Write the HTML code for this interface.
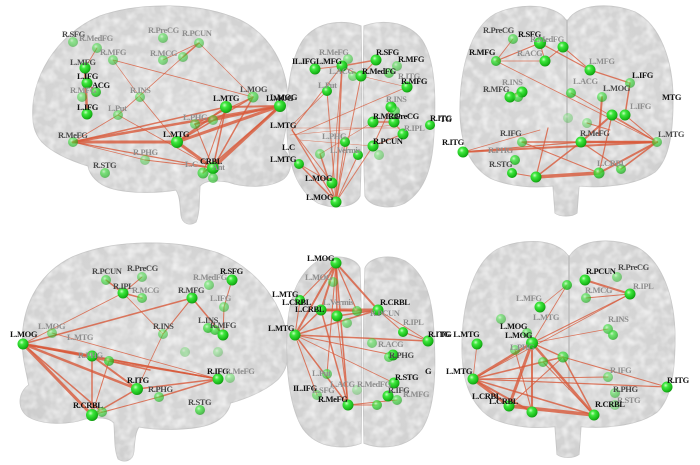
<!DOCTYPE html>
<html><head><meta charset="utf-8">
<style>
html,body{margin:0;padding:0;background:#fff;}
svg{display:block;}
text{font-family:"Liberation Serif",serif;font-weight:bold;font-size:8.5px;letter-spacing:-0.4px;}
.k{fill:#111;} .d{fill:#4a4a4a;} .g{fill:#8e8e8e;}
.e line{stroke:#d8593a;stroke-linecap:round;}
</style></head>
<body>
<svg width="700" height="465" viewBox="0 0 700 465" xmlns="http://www.w3.org/2000/svg">
<defs>
<radialGradient id="ng" cx="0.38" cy="0.35" r="0.7">
<stop offset="0" stop-color="#c8ffc0"/><stop offset="0.3" stop-color="#3ee83e"/><stop offset="0.8" stop-color="#18b818"/><stop offset="1" stop-color="#0e8a0e"/>
</radialGradient>
<radialGradient id="bg" cx="0.5" cy="0.45" r="0.6">
<stop offset="0" stop-color="#d8d8d8"/><stop offset="0.8" stop-color="#d3d3d3"/><stop offset="1" stop-color="#cbcbcb"/>
</radialGradient>
<filter id="nz" x="0" y="0" width="100%" height="100%">
<feTurbulence type="fractalNoise" baseFrequency="0.11" numOctaves="2" seed="4"/>
<feColorMatrix type="matrix" values="0 0 0 0 1  0 0 0 0 1  0 0 0 0 1  1.3 0 0 0 -0.48"/>
</filter>
<path id="sag" d="M33,118 C30,80 55,35 100,16 C140,2 200,2 240,20 C270,35 287,65 288,100 C289,120 284,135 282,148 C292,155 294,172 282,180 C268,188 245,188 228,182 C215,180 205,180 200,186 C199,200 200,212 196,222 C190,226 182,224 181,215 C180,205 180,196 176,190 C160,193 130,194 110,188 C98,184 90,176 88,166 C75,162 55,155 42,142 C36,135 33,127 33,118 Z"/>
<path id="axl" d="M361,26 C345,20 318,20 303,40 C290,60 286,95 287,130 C288,165 297,190 318,203 C335,210 355,207 360,196 C362,150 362,70 361,26 Z M364,26 C380,20 407,20 422,40 C435,60 436,95 434,130 C433,165 426,190 405,203 C390,210 370,207 365,196 C363,150 363,70 364,26 Z"/>
<path id="cor" d="M566,20 C555,4 520,2 495,14 C470,28 460,70 460,110 C460,140 468,165 490,178 C510,187 535,188 553,186 L555,213 C560,217 572,217 577,213 L579,186 C600,188 635,186 655,172 C670,158 673,130 673,100 C673,60 660,25 635,12 C610,2 578,4 568,20 Z"/>
<clipPath id="c1"><use href="#sag"/></clipPath>
<clipPath id="c2"><use href="#axl"/></clipPath>
<clipPath id="c3"><use href="#cor"/></clipPath>
<clipPath id="c4"><use href="#sag" transform="translate(322,237) scale(-1.04,1)"/></clipPath>
<clipPath id="c5"><use href="#axl" transform="translate(0,470) scale(1,-1.03)"/></clipPath>
<clipPath id="c6"><use href="#cor" transform="translate(2,235) scale(1,1.03)"/></clipPath>
</defs>

<!-- brains -->
<use href="#sag" fill="url(#bg)" stroke="#c6c6c6"/>
<g clip-path="url(#c1)"><rect x="0" y="0" width="300" height="230" filter="url(#nz)"/></g>
<use href="#axl" fill="url(#bg)" stroke="#c6c6c6"/>
<g clip-path="url(#c2)"><rect x="280" y="0" width="160" height="230" filter="url(#nz)"/></g>
<use href="#cor" fill="url(#bg)" stroke="#c6c6c6"/>
<g clip-path="url(#c3)"><rect x="450" y="0" width="250" height="230" filter="url(#nz)"/></g>
<line x1="567" y1="20" x2="567" y2="160" stroke="#bdbdbd" stroke-width="1.5"/>

<g transform="translate(322,237) scale(-1.04,1)"><use href="#sag" fill="url(#bg)" stroke="#c6c6c6"/></g>
<g clip-path="url(#c4)"><rect x="0" y="232" width="300" height="233" filter="url(#nz)"/></g>
<g transform="translate(0,470) scale(1,-1.03)"><use href="#axl" fill="url(#bg)" stroke="#c6c6c6"/></g>
<g clip-path="url(#c5)"><rect x="280" y="240" width="160" height="225" filter="url(#nz)"/></g>
<g transform="translate(2,235) scale(1,1.03)"><use href="#cor" fill="url(#bg)" stroke="#c6c6c6"/></g>
<g clip-path="url(#c6)"><rect x="450" y="232" width="250" height="233" filter="url(#nz)"/></g>
<line x1="569" y1="256" x2="569" y2="390" stroke="#bdbdbd" stroke-width="1.5"/>

<!-- edges panel 1 -->
<g class="e" stroke-opacity="0.8">
<line x1="73" y1="142" x2="177" y2="142" stroke-width="3"/>
<line x1="73" y1="142" x2="280" y2="106" stroke-width="2.5"/>
<line x1="73" y1="142" x2="226" y2="107" stroke-width="1.5"/>
<line x1="73" y1="142" x2="213" y2="168" stroke-width="1.2"/>
<line x1="73" y1="142" x2="118" y2="115" stroke-width="0.8"/>
<line x1="177" y1="142" x2="280" y2="106" stroke-width="3"/>
<line x1="177" y1="142" x2="226" y2="107" stroke-width="2"/>
<line x1="177" y1="142" x2="213" y2="168" stroke-width="3"/>
<line x1="177" y1="142" x2="253" y2="97" stroke-width="1.5"/>
<line x1="226" y1="107" x2="280" y2="106" stroke-width="2"/>
<line x1="226" y1="107" x2="213" y2="168" stroke-width="1.5"/>
<line x1="280" y1="106" x2="213" y2="168" stroke-width="3"/>
<line x1="253" y1="97" x2="213" y2="168" stroke-width="1.5"/>
<line x1="280" y1="106" x2="195" y2="124" stroke-width="2"/>
<line x1="195" y1="124" x2="253" y2="97" stroke-width="1"/>
<line x1="195" y1="124" x2="213" y2="168" stroke-width="1"/>
<line x1="280" y1="106" x2="203" y2="173" stroke-width="1.5"/>
<line x1="85" y1="68" x2="87" y2="114" stroke-width="2.5"/>
<line x1="87" y1="83" x2="96" y2="92" stroke-width="1.5"/>
<line x1="113" y1="60" x2="253" y2="97" stroke-width="0.8"/>
<line x1="118" y1="115" x2="183" y2="57" stroke-width="0.8"/>
<line x1="118" y1="115" x2="213" y2="168" stroke-width="0.8"/>
<line x1="140" y1="97" x2="177" y2="142" stroke-width="0.8"/>
<line x1="163" y1="60" x2="199" y2="43" stroke-width="0.8"/>
<line x1="183" y1="57" x2="199" y2="43" stroke-width="1.5"/>
<line x1="199" y1="43" x2="253" y2="97" stroke-width="0.6"/>
<line x1="113" y1="60" x2="140" y2="97" stroke-width="0.6"/>
<line x1="97" y1="48" x2="85" y2="68" stroke-width="0.8"/>
<line x1="145" y1="160" x2="213" y2="168" stroke-width="1"/>
<line x1="73" y1="142" x2="145" y2="160" stroke-width="0.8"/>
<line x1="226" y1="107" x2="203" y2="173" stroke-width="1"/>
</g>
<!-- edges panel 2 -->
<g class="e" stroke-opacity="0.75">
<line x1="336" y1="202" x2="342" y2="66" stroke-width="1.5"/>
<line x1="336" y1="202" x2="327" y2="91" stroke-width="1"/>
<line x1="336" y1="202" x2="361" y2="76" stroke-width="1"/>
<line x1="336" y1="202" x2="299" y2="164" stroke-width="1.5"/>
<line x1="336" y1="202" x2="320" y2="154" stroke-width="1.5"/>
<line x1="336" y1="202" x2="292" y2="130" stroke-width="1.2"/>
<line x1="336" y1="202" x2="345" y2="142" stroke-width="1"/>
<line x1="336" y1="202" x2="373" y2="146" stroke-width="1"/>
<line x1="336" y1="202" x2="358" y2="155" stroke-width="1"/>
<line x1="332" y1="183" x2="299" y2="164" stroke-width="1"/>
<line x1="332" y1="183" x2="292" y2="130" stroke-width="1"/>
<line x1="332" y1="183" x2="342" y2="66" stroke-width="0.8"/>
<line x1="342" y1="66" x2="376" y2="60" stroke-width="1.5"/>
<line x1="342" y1="66" x2="361" y2="76" stroke-width="1"/>
<line x1="315" y1="69" x2="342" y2="66" stroke-width="1"/>
<line x1="376" y1="60" x2="361" y2="76" stroke-width="1"/>
<line x1="342" y1="66" x2="292" y2="130" stroke-width="1"/>
<line x1="327" y1="91" x2="292" y2="125" stroke-width="0.8"/>
<line x1="407" y1="87" x2="295" y2="135" stroke-width="0.8"/>
<line x1="391" y1="107" x2="373" y2="146" stroke-width="1"/>
<line x1="373" y1="122" x2="394" y2="122" stroke-width="1.5"/>
<line x1="394" y1="122" x2="403" y2="134" stroke-width="1"/>
<line x1="373" y1="146" x2="403" y2="134" stroke-width="1"/>
<line x1="290" y1="128" x2="400" y2="128" stroke-width="0.6"/>
<line x1="290" y1="135" x2="395" y2="125" stroke-width="0.5"/>
<line x1="300" y1="140" x2="373" y2="146" stroke-width="0.6"/>
<line x1="361" y1="76" x2="407" y2="87" stroke-width="0.6"/>
<line x1="373" y1="122" x2="320" y2="154" stroke-width="0.6"/>
</g>
<!-- edges panel 3 -->
<g class="e" stroke-opacity="0.8">
<line x1="463" y1="152" x2="657" y2="142" stroke-width="2"/>
<line x1="463" y1="152" x2="581" y2="142" stroke-width="1.2"/>
<line x1="522" y1="142" x2="657" y2="142" stroke-width="1.5"/>
<line x1="536" y1="177" x2="599" y2="173" stroke-width="3.5"/>
<line x1="536" y1="177" x2="581" y2="142" stroke-width="1.5"/>
<line x1="536" y1="177" x2="548" y2="128" stroke-width="1.2"/>
<line x1="581" y1="142" x2="657" y2="142" stroke-width="2.5"/>
<line x1="612" y1="115" x2="581" y2="142" stroke-width="2"/>
<line x1="602" y1="97" x2="599" y2="135" stroke-width="2"/>
<line x1="587" y1="123" x2="610" y2="130" stroke-width="1"/>
<line x1="599" y1="173" x2="657" y2="142" stroke-width="2"/>
<line x1="621" y1="169" x2="657" y2="142" stroke-width="1.5"/>
<line x1="581" y1="142" x2="621" y2="169" stroke-width="1.2"/>
<line x1="599" y1="173" x2="612" y2="115" stroke-width="1.2"/>
<line x1="630" y1="83" x2="625" y2="115" stroke-width="1.5"/>
<line x1="590" y1="70" x2="630" y2="83" stroke-width="1.2"/>
<line x1="540" y1="43" x2="590" y2="70" stroke-width="1.2"/>
<line x1="563" y1="47" x2="590" y2="70" stroke-width="1"/>
<line x1="496" y1="61" x2="540" y2="43" stroke-width="1.2"/>
<line x1="496" y1="61" x2="545" y2="61" stroke-width="0.8"/>
<line x1="496" y1="61" x2="657" y2="142" stroke-width="0.8"/>
<line x1="510" y1="97" x2="522" y2="92" stroke-width="3"/>
<line x1="540" y1="43" x2="545" y2="61" stroke-width="1"/>
<line x1="545" y1="61" x2="563" y2="47" stroke-width="1"/>
<line x1="496" y1="61" x2="513" y2="39" stroke-width="0.8"/>
<line x1="571" y1="93" x2="657" y2="142" stroke-width="0.8"/>
<line x1="612" y1="115" x2="657" y2="142" stroke-width="1"/>
<line x1="625" y1="115" x2="657" y2="142" stroke-width="1"/>
<line x1="522" y1="142" x2="599" y2="173" stroke-width="1"/>
<line x1="512" y1="173" x2="536" y2="177" stroke-width="1"/>
<line x1="463" y1="152" x2="540" y2="130" stroke-width="0.8"/>
</g>
<!-- edges panel 4 -->
<g class="e" stroke-opacity="0.8">
<line x1="23" y1="344" x2="192" y2="298" stroke-width="1.5"/>
<line x1="23" y1="344" x2="123" y2="293" stroke-width="0.8"/>
<line x1="23" y1="344" x2="92" y2="356" stroke-width="2.5"/>
<line x1="23" y1="344" x2="92" y2="415" stroke-width="3"/>
<line x1="23" y1="344" x2="137" y2="389" stroke-width="2.5"/>
<line x1="23" y1="344" x2="218" y2="379" stroke-width="1.5"/>
<line x1="23" y1="344" x2="109" y2="361" stroke-width="1.5"/>
<line x1="23" y1="344" x2="102" y2="412" stroke-width="1.5"/>
<line x1="92" y1="356" x2="92" y2="415" stroke-width="1.5"/>
<line x1="92" y1="356" x2="218" y2="379" stroke-width="1.5"/>
<line x1="92" y1="356" x2="137" y2="389" stroke-width="2"/>
<line x1="92" y1="415" x2="137" y2="389" stroke-width="1.5"/>
<line x1="92" y1="415" x2="109" y2="361" stroke-width="1"/>
<line x1="137" y1="389" x2="218" y2="379" stroke-width="1.5"/>
<line x1="159" y1="397" x2="218" y2="379" stroke-width="1.5"/>
<line x1="159" y1="397" x2="92" y2="415" stroke-width="1"/>
<line x1="192" y1="298" x2="163" y2="334" stroke-width="1"/>
<line x1="192" y1="298" x2="223" y2="335" stroke-width="1.5"/>
<line x1="232" y1="280" x2="224" y2="307" stroke-width="1"/>
<line x1="224" y1="307" x2="223" y2="335" stroke-width="1"/>
<line x1="106" y1="280" x2="123" y2="293" stroke-width="1.5"/>
<line x1="123" y1="293" x2="142" y2="298" stroke-width="1.5"/>
<line x1="142" y1="277" x2="123" y2="293" stroke-width="1"/>
<line x1="123" y1="293" x2="163" y2="334" stroke-width="0.8"/>
<line x1="163" y1="334" x2="137" y2="389" stroke-width="0.8"/>
<line x1="109" y1="361" x2="218" y2="379" stroke-width="1"/>
<line x1="52" y1="333" x2="218" y2="379" stroke-width="0.8"/>
<line x1="109" y1="361" x2="150" y2="370" stroke-width="1.5"/>
</g>
<!-- edges panel 5 -->
<g class="e" stroke-opacity="0.8">
<line x1="336" y1="263" x2="295" y2="335" stroke-width="2"/>
<line x1="336" y1="263" x2="321" y2="310" stroke-width="2"/>
<line x1="336" y1="263" x2="378" y2="310" stroke-width="2"/>
<line x1="336" y1="263" x2="337" y2="316" stroke-width="1.5"/>
<line x1="336" y1="263" x2="348" y2="405" stroke-width="1.5"/>
<line x1="336" y1="263" x2="327" y2="374" stroke-width="1"/>
<line x1="336" y1="263" x2="357" y2="311" stroke-width="1.2"/>
<line x1="295" y1="335" x2="428" y2="341" stroke-width="1.5"/>
<line x1="295" y1="335" x2="378" y2="310" stroke-width="1.5"/>
<line x1="295" y1="335" x2="348" y2="405" stroke-width="1.5"/>
<line x1="295" y1="335" x2="393" y2="355" stroke-width="1"/>
<line x1="295" y1="335" x2="317" y2="395" stroke-width="1"/>
<line x1="295" y1="335" x2="321" y2="310" stroke-width="1.5"/>
<line x1="295" y1="335" x2="394" y2="383" stroke-width="0.8"/>
<line x1="321" y1="310" x2="378" y2="310" stroke-width="3"/>
<line x1="321" y1="310" x2="348" y2="405" stroke-width="1.5"/>
<line x1="337" y1="316" x2="348" y2="405" stroke-width="1"/>
<line x1="348" y1="405" x2="377" y2="405" stroke-width="1"/>
<line x1="348" y1="405" x2="397" y2="400" stroke-width="1"/>
<line x1="378" y1="310" x2="403" y2="332" stroke-width="1"/>
<line x1="403" y1="332" x2="428" y2="341" stroke-width="1"/>
<line x1="378" y1="310" x2="428" y2="341" stroke-width="0.8"/>
<line x1="300" y1="300" x2="336" y2="263" stroke-width="1"/>
<line x1="300" y1="300" x2="295" y2="335" stroke-width="1"/>
<line x1="321" y1="310" x2="357" y2="311" stroke-width="1.5"/>
<line x1="337" y1="316" x2="378" y2="310" stroke-width="1.5"/>
</g>
<!-- edges panel 6 -->
<g class="e" stroke-opacity="0.8">
<line x1="473" y1="379" x2="532" y2="343" stroke-width="2.5"/>
<line x1="473" y1="379" x2="509" y2="406" stroke-width="3"/>
<line x1="473" y1="379" x2="532" y2="412" stroke-width="2"/>
<line x1="473" y1="379" x2="594" y2="415" stroke-width="1.5"/>
<line x1="473" y1="379" x2="563" y2="357" stroke-width="1.5"/>
<line x1="473" y1="379" x2="667" y2="387" stroke-width="1.2"/>
<line x1="473" y1="379" x2="630" y2="294" stroke-width="0.8"/>
<line x1="473" y1="379" x2="608" y2="377" stroke-width="1"/>
<line x1="532" y1="343" x2="509" y2="406" stroke-width="3"/>
<line x1="532" y1="343" x2="532" y2="412" stroke-width="2"/>
<line x1="532" y1="343" x2="594" y2="415" stroke-width="2.5"/>
<line x1="532" y1="343" x2="563" y2="357" stroke-width="1.5"/>
<line x1="532" y1="343" x2="630" y2="294" stroke-width="1"/>
<line x1="532" y1="343" x2="567" y2="285" stroke-width="0.8"/>
<line x1="509" y1="406" x2="594" y2="415" stroke-width="3.5"/>
<line x1="563" y1="357" x2="667" y2="387" stroke-width="1"/>
<line x1="563" y1="357" x2="594" y2="415" stroke-width="1.5"/>
<line x1="563" y1="357" x2="509" y2="406" stroke-width="1"/>
<line x1="477" y1="344" x2="473" y2="379" stroke-width="0.8"/>
<line x1="585" y1="280" x2="630" y2="294" stroke-width="2"/>
<line x1="586" y1="298" x2="630" y2="294" stroke-width="1"/>
<line x1="540" y1="307" x2="567" y2="285" stroke-width="0.8"/>
<line x1="543" y1="362" x2="594" y2="415" stroke-width="1"/>
<line x1="515" y1="350" x2="532" y2="412" stroke-width="1"/>
<line x1="532" y1="343" x2="608" y2="329" stroke-width="0.8"/>
</g>

<!-- nodes -->
<g fill="url(#ng)">
<circle cx="73" cy="42" r="5" opacity=".5"/><circle cx="97" cy="48" r="5" opacity=".5"/><circle cx="113" cy="60" r="5" opacity=".5"/>
<circle cx="85" cy="68" r="5.5"/><circle cx="87" cy="83" r="5.5"/><circle cx="96" cy="92" r="5" opacity=".8"/>
<circle cx="82" cy="97" r="5" opacity=".5"/><circle cx="87" cy="114" r="5.5"/><circle cx="118" cy="115" r="5" opacity=".5"/>
<circle cx="140" cy="97" r="5" opacity=".5"/><circle cx="163" cy="38" r="5" opacity=".5"/><circle cx="199" cy="43" r="5" opacity=".5"/>
<circle cx="163" cy="60" r="5" opacity=".5"/><circle cx="183" cy="57" r="5" opacity=".5"/><circle cx="253" cy="97" r="5.5" opacity=".6"/>
<circle cx="226" cy="107" r="6"/><circle cx="280" cy="106" r="6"/><circle cx="195" cy="124" r="5" opacity=".5"/>
<circle cx="213" cy="120" r="5" opacity=".5"/><circle cx="73" cy="142" r="5" opacity=".6"/><circle cx="177" cy="142" r="6"/>
<circle cx="145" cy="160" r="5" opacity=".4"/><circle cx="105" cy="173" r="5" opacity=".6"/><circle cx="203" cy="173" r="5.5" opacity=".7"/>
<circle cx="213" cy="168" r="6"/><circle cx="213" cy="178" r="5" opacity=".6"/>
<circle cx="315" cy="69" r="5.5"/><circle cx="342" cy="66" r="5.5"/><circle cx="348" cy="59" r="5" opacity=".5"/>
<circle cx="353" cy="76" r="5" opacity=".5"/><circle cx="361" cy="76" r="5.5"/><circle cx="376" cy="60" r="5.5"/>
<circle cx="389" cy="73" r="5" opacity=".6"/><circle cx="397" cy="66" r="5" opacity=".5"/><circle cx="407" cy="87" r="5.5"/>
<circle cx="327" cy="91" r="5"/><circle cx="391" cy="107" r="5.5"/><circle cx="395" cy="111" r="5" opacity=".6"/>
<circle cx="373" cy="122" r="5.5"/><circle cx="394" cy="122" r="5.5"/><circle cx="403" cy="134" r="5.5"/>
<circle cx="430" cy="125" r="5"/><circle cx="373" cy="146" r="5.5"/><circle cx="379" cy="155" r="5" opacity=".4"/>
<circle cx="345" cy="142" r="5"/><circle cx="358" cy="155" r="5"/><circle cx="320" cy="154" r="5" opacity=".5"/>
<circle cx="299" cy="164" r="5"/><circle cx="332" cy="183" r="5.5"/><circle cx="336" cy="202" r="5.5"/>
<circle cx="513" cy="39" r="5" opacity=".6"/><circle cx="540" cy="43" r="6"/><circle cx="563" cy="47" r="5.5"/>
<circle cx="545" cy="61" r="5.5"/><circle cx="496" cy="61" r="5" opacity=".8"/><circle cx="590" cy="70" r="5.5"/>
<circle cx="630" cy="83" r="5" opacity=".6"/><circle cx="522" cy="92" r="5.5"/><circle cx="510" cy="97" r="5.5"/>
<circle cx="518" cy="97" r="5" opacity=".7"/><circle cx="571" cy="93" r="5" opacity=".7"/><circle cx="602" cy="97" r="5" opacity=".6"/>
<circle cx="612" cy="115" r="5.5"/><circle cx="625" cy="115" r="5.5"/><circle cx="568" cy="118" r="5" opacity=".3"/>
<circle cx="587" cy="123" r="5" opacity=".4"/><circle cx="522" cy="142" r="5" opacity=".6"/><circle cx="581" cy="142" r="5.5"/>
<circle cx="657" cy="142" r="5" opacity=".6"/><circle cx="463" cy="152" r="5.5"/><circle cx="515" cy="160" r="5" opacity=".8"/>
<circle cx="512" cy="173" r="5"/><circle cx="536" cy="177" r="5.5"/><circle cx="599" cy="173" r="5.5" opacity=".8"/>
<circle cx="621" cy="169" r="5" opacity=".7"/>
<circle cx="106" cy="280" r="5" opacity=".6"/><circle cx="142" cy="277" r="5" opacity=".5"/><circle cx="123" cy="293" r="5.5"/>
<circle cx="142" cy="298" r="5" opacity=".6"/><circle cx="192" cy="298" r="5.5"/><circle cx="209" cy="285" r="5" opacity=".5"/>
<circle cx="232" cy="280" r="5.5"/><circle cx="224" cy="307" r="5" opacity=".5"/><circle cx="208" cy="328" r="5" opacity=".7"/>
<circle cx="215" cy="330" r="5" opacity=".7"/><circle cx="223" cy="335" r="5.5"/><circle cx="163" cy="334" r="5" opacity=".5"/>
<circle cx="52" cy="333" r="5" opacity=".5"/><circle cx="23" cy="344" r="5.5"/><circle cx="92" cy="356" r="5.5"/>
<circle cx="109" cy="361" r="5" opacity=".7"/><circle cx="185" cy="352" r="5" opacity=".3"/><circle cx="218" cy="352" r="5" opacity=".3"/>
<circle cx="218" cy="379" r="5.5"/><circle cx="230" cy="378" r="5" opacity=".4"/><circle cx="137" cy="389" r="6"/>
<circle cx="159" cy="397" r="5" opacity=".6"/><circle cx="200" cy="410" r="5" opacity=".7"/><circle cx="92" cy="415" r="6"/>
<circle cx="102" cy="412" r="5" opacity=".6"/>
<circle cx="336" cy="263" r="5.5"/><circle cx="333" cy="282" r="5" opacity=".5"/><circle cx="300" cy="300" r="5"/>
<circle cx="321" cy="310" r="5.5"/><circle cx="337" cy="316" r="5.5"/><circle cx="357" cy="311" r="5" opacity=".6"/>
<circle cx="378" cy="310" r="5.5"/><circle cx="295" cy="335" r="5.5"/><circle cx="347" cy="323" r="5" opacity=".5"/>
<circle cx="403" cy="332" r="5"/><circle cx="428" cy="341" r="5.5"/><circle cx="372" cy="343" r="5" opacity=".5"/>
<circle cx="393" cy="355" r="5.5"/><circle cx="389" cy="357" r="5" opacity=".6"/><circle cx="327" cy="374" r="5" opacity=".6"/>
<circle cx="394" cy="383" r="5.5"/><circle cx="388" cy="396" r="5.5"/><circle cx="397" cy="400" r="5" opacity=".6"/>
<circle cx="317" cy="395" r="5" opacity=".5"/><circle cx="348" cy="405" r="5.5"/><circle cx="377" cy="405" r="5" opacity=".7"/>
<circle cx="357" cy="390" r="5" opacity=".3"/>
<circle cx="567" cy="285" r="5" opacity=".8"/><circle cx="585" cy="280" r="5.5"/><circle cx="617" cy="277" r="5" opacity=".5"/>
<circle cx="630" cy="294" r="5.5"/><circle cx="586" cy="298" r="5" opacity=".6"/><circle cx="540" cy="307" r="5.5"/>
<circle cx="501" cy="319" r="5" opacity=".5"/><circle cx="527" cy="333" r="5" opacity=".6"/><circle cx="532" cy="343" r="6"/>
<circle cx="477" cy="344" r="5.5"/><circle cx="608" cy="329" r="5" opacity=".6"/><circle cx="613" cy="335" r="5" opacity=".7"/>
<circle cx="563" cy="357" r="5.5" opacity=".7"/><circle cx="543" cy="362" r="5" opacity=".6"/><circle cx="515" cy="350" r="5" opacity=".5"/>
<circle cx="473" cy="379" r="5.5"/><circle cx="608" cy="377" r="5" opacity=".5"/><circle cx="667" cy="387" r="5.5"/>
<circle cx="615" cy="393" r="5" opacity=".5"/><circle cx="615" cy="405" r="5" opacity=".4"/><circle cx="509" cy="406" r="5.5"/>
<circle cx="532" cy="412" r="5.5"/><circle cx="594" cy="415" r="5.5"/>
</g>

<!-- labels p1 -->
<text x="62" y="37" class="d">R.SFG</text><text x="79" y="41" class="g">R.MedFG</text><text x="100" y="55" class="g">R.MFG</text>
<text x="70" y="65" class="d">L.MFG</text><text x="77" y="79" class="k">L.IFG</text><text x="92" y="88" class="k">ACG</text>
<text x="70" y="93" class="g">R.MFG</text><text x="77" y="110" class="k">L.IFG</text><text x="108" y="111" class="g">L.Put</text>
<text x="130" y="93" class="g">R.INS</text><text x="148" y="33" class="g">R.PreCG</text><text x="182" y="36" class="g">R.PCUN</text>
<text x="150" y="56" class="g">R.MCG</text><text x="240" y="92" class="d">L.MOG</text><text x="213" y="101" class="k">L.MTG</text>
<text x="266" y="101" class="k">L.MOG</text><text x="183" y="120" class="g">L.PHG</text><text x="58" y="138" class="d">R.MeFG</text>
<text x="163" y="137" class="k">L.MTG</text><text x="133" y="155" class="g">R.PHG</text><text x="93" y="168" class="d">R.STG</text>
<text x="185" y="167" class="g">L.C</text><text x="200" y="164" class="k">CRBL</text><text x="212" y="170" class="g">Ant</text>
<!-- labels p2 -->
<text x="270" y="100" class="k">L.MOG</text><text x="270" y="128" class="k">L.MTG</text><text x="282" y="150" class="k">L.C</text>
<text x="270" y="162" class="k">L.MTG</text>
<text x="292" y="64" class="k">IL.IFG</text><text x="316" y="64" class="k">L.MFG</text><text x="319" y="55" class="g">R.MeFG</text>
<text x="329" y="74" class="g">L.ACG</text><text x="362" y="74" class="k">R.MedFG</text><text x="376" y="55" class="k">R.SFG</text>
<text x="398" y="62" class="k">R.MFG</text><text x="398" y="79" class="g">R.ITG</text><text x="401" y="84" class="k">R.MFG</text>
<text x="318" y="88" class="g">L.Put</text><text x="386" y="102" class="g">R.INS</text><text x="373" y="119" class="k">R.MCG</text>
<text x="388" y="119" class="k">R.PreCG</text><text x="430" y="121" class="k">R.ITG</text><text x="404" y="131" class="g">R.IPL</text>
<text x="373" y="144" class="k">R.PCUN</text><text x="322" y="139" class="g">L.PHG</text><text x="330" y="153" class="g">L.Vermis</text>
<text x="305" y="181" class="k">L.MOG</text><text x="306" y="200" class="k">L.MOG</text>
<!-- labels p3 -->
<text x="440" y="122" class="k">TG</text><text x="442" y="145" class="k">R.ITG</text>
<text x="483" y="33" class="d">R.PreCG</text><text x="518" y="37" class="k">R.SFG</text><text x="530" y="42" class="g">R.MedFG</text>
<text x="469" y="55" class="k">R.MFG</text><text x="517" y="56" class="g">R.ACG</text><text x="589" y="64" class="g">L.MFG</text>
<text x="632" y="78" class="k">L.IFG</text><text x="502" y="85" class="g">R.INS</text><text x="483" y="92" class="d">R.MFG</text>
<text x="573" y="84" class="g">L.ACG</text><text x="603" y="91" class="d">L.MOG</text><text x="630" y="109" class="g">L.IFG</text>
<text x="662" y="100" class="k">MTG</text><text x="500" y="136" class="d">R.IFG</text><text x="580" y="136" class="d">R.MeFG</text>
<text x="658" y="137" class="d">L.MTG</text><text x="488" y="153" class="g">R.PHG</text><text x="489" y="167" class="d">R.STG</text>
<text x="597" y="166" class="g">L.CRBL</text>
<!-- labels p4 -->
<text x="92" y="274" class="d">R.PCUN</text><text x="127" y="271" class="d">R.PreCG</text><text x="113" y="289" class="d">R.IPL</text>
<text x="132" y="293" class="g">R.MCG</text><text x="193" y="280" class="g">R.MedFG</text><text x="220" y="274" class="k">R.SFG</text>
<text x="178" y="293" class="d">R.MFG</text><text x="210" y="301" class="g">L.IFG</text><text x="198" y="323" class="d">L.INS</text>
<text x="210" y="328" class="d">R.MFG</text><text x="153" y="329" class="d">R.INS</text><text x="10" y="337" class="k">L.MOG</text>
<text x="38" y="329" class="g">L.MOG</text><text x="67" y="340" class="g">L.MTG</text><text x="207" y="374" class="k">R.IFG</text>
<text x="225" y="374" class="g">R.MeFG</text><text x="127" y="383" class="k">R.ITG</text><text x="148" y="392" class="d">R.PHG</text>
<text x="188" y="405" class="d">R.STG</text><text x="73" y="408" class="k">R.CRBL</text><text x="78" y="358" class="g">R.PHG</text>
<!-- labels p5 -->
<text x="307" y="261" class="k">L.MOG</text><text x="305" y="280" class="g">L.MOG</text><text x="272" y="297" class="k">L.MTG</text>
<text x="282" y="305" class="k">L.CRBL</text><text x="295" y="312" class="k">L.CRBL</text><text x="323" y="305" class="g">L.Vermis</text>
<text x="380" y="305" class="k">R.CRBL</text><text x="370" y="316" class="g">R.PCUN</text><text x="268" y="331" class="k">L.MTG</text>
<text x="403" y="325" class="g">R.IPL</text><text x="428" y="337" class="k">R.ITG</text><text x="378" y="347" class="g">R.ACG</text>
<text x="389" y="358" class="d">R.PHG</text><text x="312" y="376" class="g">L.Put</text><text x="395" y="380" class="k">R.STG</text>
<text x="388" y="393" class="d">R.IFG</text><text x="403" y="397" class="g">R.MFG</text><text x="293" y="391" class="k">IL.IFG</text>
<text x="312" y="393" class="g">L.SFG</text><text x="318" y="402" class="k">R.MeFG</text><text x="330" y="387" class="g">L.ACG</text>
<text x="357" y="387" class="g">R.MedFG</text><text x="425" y="374" class="k">G</text>
<!-- labels p6 -->
<text x="586" y="274" class="k">R.PCUN</text><text x="618" y="270" class="d">R.PreCG</text><text x="633" y="289" class="g">R.IPL</text>
<text x="585" y="293" class="g">R.MCG</text><text x="516" y="301" class="g">L.MFG</text><text x="533" y="320" class="g">L.MTG</text>
<text x="500" y="329" class="k">L.MOG</text><text x="505" y="338" class="k">L.MOG</text><text x="440" y="337" class="k">TG L.MTG</text>
<text x="608" y="322" class="g">R.INS</text><text x="510" y="350" class="g">L.PHG</text><text x="446" y="374" class="k">L.MTG</text>
<text x="610" y="373" class="g">R.IFG</text><text x="667" y="383" class="k">R.ITG</text><text x="613" y="392" class="d">R.PHG</text>
<text x="617" y="403" class="g">R.STG</text><text x="472" y="399" class="k">L.CRBL</text><text x="489" y="404" class="k">L.CRBL</text>
<text x="595" y="407" class="k">R.CRBL</text>
</svg>
</body></html>
